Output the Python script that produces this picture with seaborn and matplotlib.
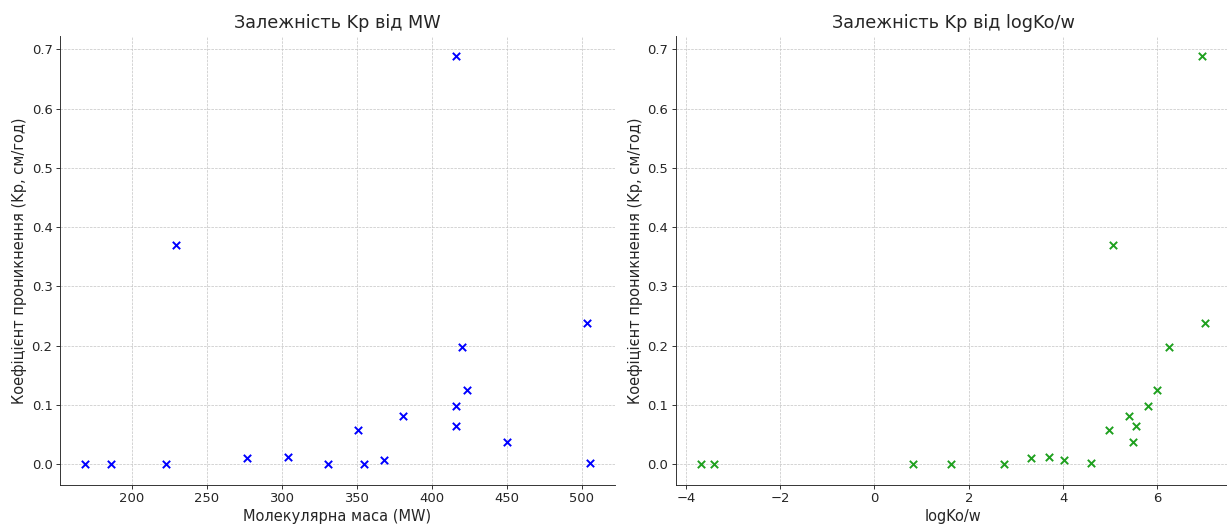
import matplotlib
matplotlib.use("Agg")
import matplotlib.pyplot as plt
import pandas as pd
import seaborn as sns

# Values
mw = [169.0, 186.2, 222.6, 229.3, 277.1, 304.3, 330.5, 350.5, 354.8, 367.9,
      380.5, 416.2, 420.0, 423.3, 416.2, 416.2, 449.8, 503.1, 505.2]
log_kow = [-3.68, -3.40, 0.81, 5.06, 3.33, 3.70, 2.75, 4.97, 1.62, 4.02,
           5.40, 6.94, 6.25, 6.00, 5.81, 5.55, 5.49, 7.02, 4.60]
kp = [0.0, 0.0, 0.0, 0.370, 0.010, 0.012, 0.001, 0.058, 0.0, 0.008,
      0.081, 0.688, 0.198, 0.126, 0.098, 0.064, 0.037, 0.238, 0.003]

titles = ["Залежність Kp від MW", "Залежність Kp від logKo/w"]
xlabels = ["Молекулярна маса (MW)", "logKo/w"]
ylabel = "Коефіцієнт проникнення (Kp, см/год)"

df = pd.DataFrame({"MW": mw, "logKow": log_kow, "Kp": kp})

sns.set_style("ticks")
plt.rcParams["font.family"] = ["DejaVu Sans"]
plt.rcParams["font.size"] = 9.5
plt.rcParams["axes.linewidth"] = 0.65

fig, axes = plt.subplots(1, 2, figsize=(12.27, 5.24), dpi=100)
fig.subplots_adjust(left=60 / 1227, right=1230.7 / 1227,
                    bottom=1 - 484.7 / 524, top=1 - 36 / 524, wspace=0.1094)

for ax, xcol, color, title, xlabel in zip(axes, ["MW", "logKow"],
                                          ["blue", "#1fa01f"], titles, xlabels):
    sns.scatterplot(data=df, x=xcol, y="Kp", ax=ax, marker="x", color=color,
                    s=28, linewidth=1.4)
    ax.set_title(title, fontsize=12.7, pad=5.5)
    ax.set_xlabel(xlabel, fontsize=10.5, labelpad=2.6)
    ax.set_ylabel(ylabel, fontsize=10.5, labelpad=3)
    ax.tick_params(labelsize=9.45, length=2.8, width=0.65, pad=2.6)
    ax.grid(True, linestyle="--", linewidth=0.5, color="#c4c4c4")
    ax.set_axisbelow(True)
    sns.despine(ax=ax)

fig.savefig("out.png", dpi=100)
